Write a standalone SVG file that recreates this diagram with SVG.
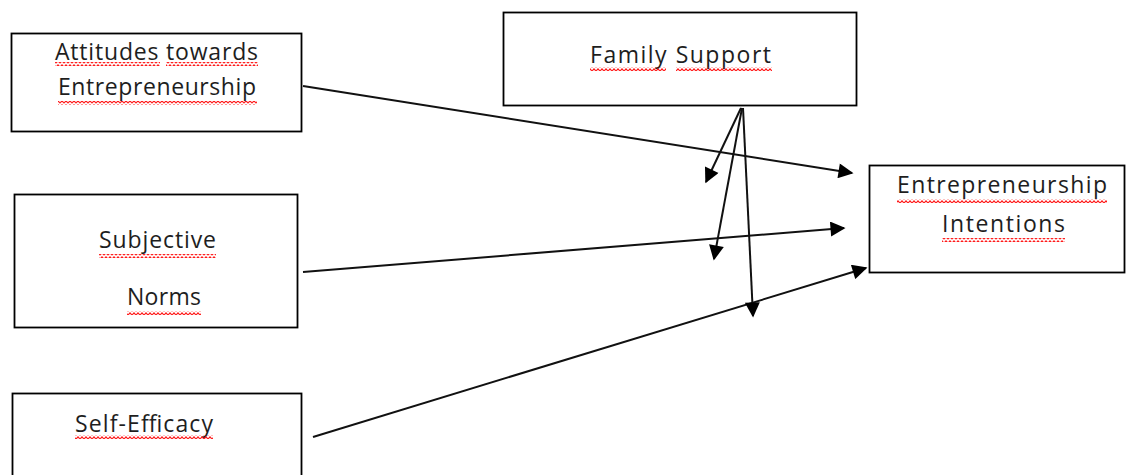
<svg xmlns="http://www.w3.org/2000/svg" width="1126" height="475" viewBox="0 0 1126 475">
  <style>
    .box { fill: #ffffff; stroke: #000000; stroke-width: 1.8; }
    .lbl { font-family: "Open Sans", "Liberation Sans", sans-serif; font-size: 23px; fill: #1e1e1e; }
    .conn { stroke: #111111; stroke-width: 2; fill: none; marker-end: url(#arrow); }
    .sq { fill: url(#squiggle); }
  </style>
  <defs>
    <marker id="arrow" viewBox="0 0 10 10" refX="9" refY="5" markerWidth="8.5" markerHeight="7.5" markerUnits="strokeWidth" orient="auto">
      <path d="M0,0 L10,5 L0,10 Z" fill="#000000"/>
    </marker>
    <pattern id="squiggle" width="4" height="4" patternUnits="userSpaceOnUse">
      <polyline points="0,3.2 2,0.8 4,3.2" fill="none" stroke="#ff1a1a" stroke-width="1.1"/>
    </pattern>
  </defs>
  <rect width="1126" height="475" fill="#ffffff"/>

  <g id="connectors">
    <line class="conn" x1="303" y1="86" x2="852" y2="173"/>
    <line class="conn" x1="303" y1="272" x2="844" y2="228"/>
    <line class="conn" x1="313" y1="437" x2="866" y2="268"/>
    <line class="conn" x1="741" y1="108" x2="706" y2="182"/>
    <line class="conn" x1="742" y1="108" x2="714" y2="259"/>
    <line class="conn" x1="743" y1="108" x2="753" y2="316"/>
  </g>

  <g id="attitudes">
    <rect class="box" x="11.5" y="33.5" width="290" height="98"/>
    <text class="lbl" x="55" y="60" textLength="203" lengthAdjust="spacing">Attitudes towards</text>
    <text class="lbl" x="58" y="95" textLength="198" lengthAdjust="spacing">Entrepreneurship</text>
    <rect class="sq" x="55" y="62" width="105" height="4"/>
    <rect class="sq" x="166" y="62" width="92" height="4"/>
    <rect class="sq" x="58" y="101" width="199" height="4"/>
  </g>

  <g id="family">
    <rect class="box" x="503.5" y="12.5" width="353" height="93"/>
    <text class="lbl" x="590" y="63" textLength="181" lengthAdjust="spacing">Family Support</text>
    <rect class="sq" x="590" y="67" width="76" height="4"/>
    <rect class="sq" x="676" y="67" width="96" height="4"/>
  </g>

  <g id="intentions">
    <rect class="box" x="869.5" y="165.5" width="255" height="107"/>
    <text class="lbl" x="897" y="193" textLength="210" lengthAdjust="spacing">Entrepreneurship</text>
    <text class="lbl" x="942" y="232" textLength="123" lengthAdjust="spacing">Intentions</text>
    <rect class="sq" x="897" y="199" width="210" height="4"/>
    <rect class="sq" x="942" y="238" width="123" height="4"/>
  </g>

  <g id="subjective">
    <rect class="box" x="14.5" y="194.5" width="283" height="133"/>
    <text class="lbl" x="99" y="248" textLength="117" lengthAdjust="spacing">Subjective</text>
    <text class="lbl" x="127" y="305" textLength="74" lengthAdjust="spacing">Norms</text>
    <rect class="sq" x="99" y="254" width="117" height="4"/>
    <rect class="sq" x="127" y="311" width="74" height="4"/>
  </g>

  <g id="selfefficacy">
    <rect class="box" x="12.5" y="393.5" width="289" height="90"/>
    <text class="lbl" x="75" y="432" textLength="138" lengthAdjust="spacing">Self-Efficacy</text>
    <rect class="sq" x="75" y="435" width="138" height="4"/>
  </g>
</svg>
